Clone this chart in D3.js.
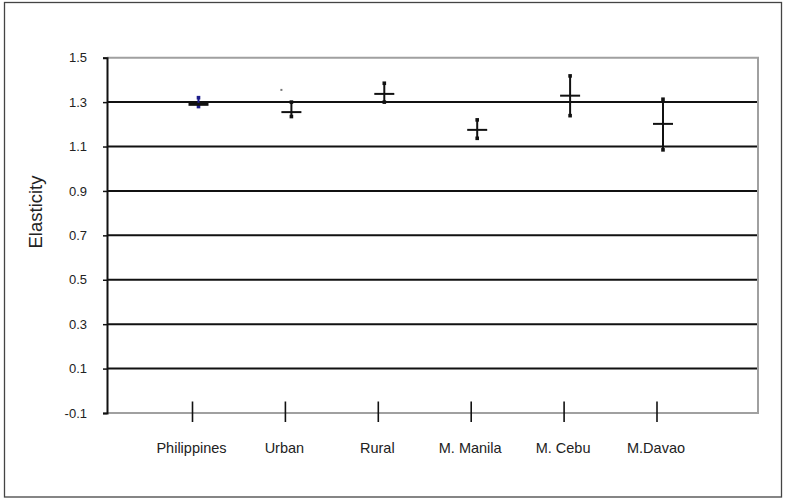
<!DOCTYPE html>
<html><head><meta charset="utf-8">
<script src="https://cdn.jsdelivr.net/npm/d3@7/dist/d3.min.js"></script>
<style>
html,body{margin:0;padding:0;background:#fff;}
svg{display:block;}
text{font-family:"Liberation Sans",Arial,sans-serif;}
</style></head>
<body>
<svg id="chart" width="785" height="498"></svg>
<script>
// ---- data ----
const categories = ["Philippines", "Urban", "Rural", "M. Manila", "M. Cebu", "M.Davao"];
const estimate   = [1.29, 1.255, 1.337, 1.175, 1.329, 1.202];
const lower      = [1.28, 1.235, 1.30, 1.137, 1.239, 1.085];
const upper      = [1.32, 1.30, 1.385, 1.22, 1.418, 1.313];
const yTicks     = [-0.1, 0.1, 0.3, 0.5, 0.7, 0.9, 1.1, 1.3, 1.5];
const yTickLabels = ["-0.1", "0.1", "0.3", "0.5", "0.7", "0.9", "1.1", "1.3", "1.5"];
const strayPoint = [{cat: "Urban", value: 1.355}];

// ---- layout ----
const W = 785, H = 498;
const plot = {left: 107, right: 758, top: 57.7, bottom: 413};
const svg = d3.select("#chart");

svg.append("rect").attr("x", 0).attr("y", 0).attr("width", W).attr("height", H).attr("fill", "#fff");
// outer frame
svg.append("rect").attr("x", 4.5).attr("y", 2.5).attr("width", 777).attr("height", 494.5)
  .attr("fill", "none").attr("stroke", "#444").attr("stroke-width", 1.3);

const y = d3.scaleLinear().domain([-0.1, 1.5]).range([plot.bottom, plot.top]);
const x = d3.scalePoint().domain(categories).range([198.5, 663]);

// gridlines
svg.append("g").selectAll("line").data(yTicks.filter(v => v > -0.1 && v < 1.5)).join("line")
  .attr("x1", plot.left).attr("x2", plot.right)
  .attr("y1", d => y(d)).attr("y2", d => y(d))
  .attr("stroke", "#111").attr("stroke-width", 2);

// plot border (top, right, bottom) gray
svg.append("path")
  .attr("d", `M${plot.left},${y(1.5)}H${plot.right}V${y(-0.1)}H${plot.left}`)
  .attr("fill", "none").attr("stroke", "#a0a0a0").attr("stroke-width", 2);

// y axis
const yAxis = d3.axisLeft(y).tickValues(yTicks).tickSize(4).tickPadding(16)
  .tickFormat((d, i) => yTickLabels[i]);
const gy = svg.append("g").attr("transform", `translate(${plot.left},0)`).call(yAxis);
gy.select(".domain").attr("stroke", "#111").attr("stroke-width", 2);
gy.selectAll(".tick line").attr("stroke", "#111").attr("stroke-width", 1.5);
gy.selectAll(".tick text").attr("font-size", 13).attr("fill", "#222")
  .attr("font-family", "'Liberation Sans', Arial, sans-serif");

// x category ticks (crossing bottom axis)
const tickOffset = -6;
svg.append("g").selectAll("line").data(categories).join("line")
  .attr("x1", d => x(d) + tickOffset).attr("x2", d => x(d) + tickOffset)
  .attr("y1", 401.5).attr("y2", 422)
  .attr("stroke", "#111").attr("stroke-width", 1.6);

// x labels
svg.append("g").selectAll("text").data(categories).join("text")
  .attr("x", d => x(d) - 7).attr("y", 453)
  .attr("text-anchor", "middle").attr("font-size", 14.5).attr("fill", "#222")
  .text(d => d);

// y title
svg.append("text").attr("transform", `translate(42,212) rotate(-90)`)
  .attr("text-anchor", "middle").attr("font-size", 18.5).attr("fill", "#222")
  .text("Elasticity");

// error bars
const rows = categories.map((c, i) => ({c, i, est: estimate[i], lo: lower[i], hi: upper[i]}));
const g = svg.append("g");
g.selectAll("line.v").data(rows).join("line").attr("class", "v")
  .attr("x1", d => x(d.c)).attr("x2", d => x(d.c))
  .attr("y1", d => y(d.lo)).attr("y2", d => y(d.hi))
  .attr("stroke", d => d.i === 0 ? "#1c1c8a" : "#111").attr("stroke-width", 2);
// end caps (small squares)
const caps = rows.flatMap(d => [{d, v: d.lo}, {d, v: d.hi}]);
g.selectAll("rect.cap").data(caps).join("rect").attr("class", "cap")
  .attr("x", e => x(e.d.c) - 1.8).attr("y", e => y(e.v) - 1.8)
  .attr("width", 3.6).attr("height", 3.6)
  .attr("fill", e => e.d.i === 0 ? "#1c1c8a" : "#111");
// horizontal estimate markers
g.selectAll("line.h").data(rows).join("line").attr("class", "h")
  .attr("x1", d => x(d.c) - 10).attr("x2", d => x(d.c) + 10)
  .attr("y1", d => y(d.est)).attr("y2", d => y(d.est))
  .attr("stroke", "#111").attr("stroke-width", d => d.i === 0 ? 3 : 2);

// stray dot
g.selectAll("rect.stray").data(strayPoint).join("rect").attr("class", "stray")
  .attr("x", d => x(d.cat) - 11).attr("y", d => y(d.value) - 1)
  .attr("width", 2).attr("height", 2).attr("fill", "#777");
</script>
</body></html>
